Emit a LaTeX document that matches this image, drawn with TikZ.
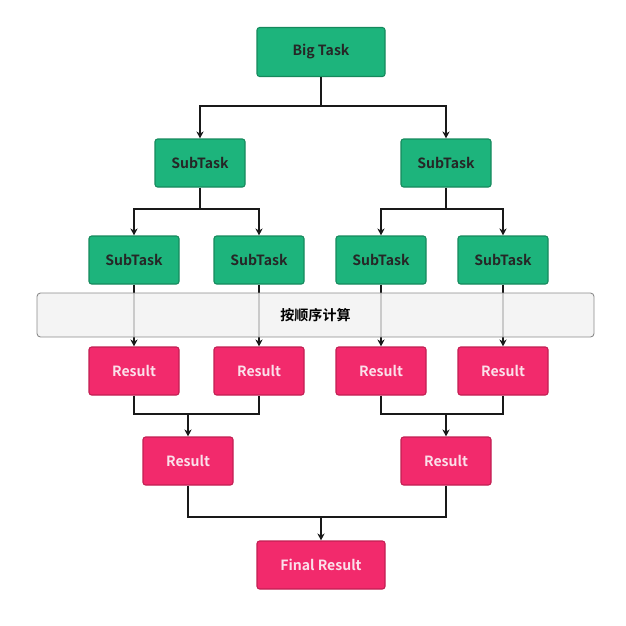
\documentclass[tikz,border=0pt]{standalone}
\usepackage{fontspec}
\setmainfont{Noto Sans CJK SC}[BoldFont={Noto Sans CJK SC Bold}]
\usetikzlibrary{arrows.meta}
\definecolor{gfill}{HTML}{1DB47C}
\definecolor{gedge}{HTML}{15895C}
\definecolor{pfill}{HTML}{F22A6C}
\definecolor{pedge}{HTML}{C21E52}
\definecolor{ptext}{HTML}{FBE0EA}
\definecolor{bandfill}{HTML}{F1F1F1}
\definecolor{bandedge}{HTML}{8A8A8A}
\begin{document}
\begin{tikzpicture}[x=0.02cm,y=-0.02cm,
  gbox/.style={draw=gedge,fill=gfill,line width=0.6pt,rounded corners=1.5pt,minimum width=90*0.02cm,minimum height=48*0.02cm,inner sep=0pt,font=\fontsize{8}{9}\selectfont\bfseries,text=black!85},
  pbox/.style={draw=pedge,fill=pfill,line width=0.6pt,rounded corners=1.5pt,minimum width=90*0.02cm,minimum height=48*0.02cm,inner sep=0pt,font=\fontsize{8}{9}\selectfont\bfseries,text=ptext},
  conn/.style={draw=black!90,line width=0.6pt},
  arr/.style={conn,-{Stealth[length=4pt,width=4pt]}}]
\useasboundingbox (0,0) rectangle (626,626);
% nodes
\node[gbox,minimum width=128*0.02cm,minimum height=49*0.02cm] (big) at (321,52) {Big Task};
\node[gbox] (s1) at (200,163) {SubTask};
\node[gbox] (s2) at (446,163) {SubTask};
\node[gbox] (t1) at (134,260) {SubTask};
\node[gbox] (t2) at (259,260) {SubTask};
\node[gbox] (t3) at (381,260) {SubTask};
\node[gbox] (t4) at (503,260) {SubTask};
\node[pbox] (r1) at (134,371) {Result};
\node[pbox] (r2) at (259,371) {Result};
\node[pbox] (r3) at (381,371) {Result};
\node[pbox] (r4) at (503,371) {Result};
\node[pbox] (q1) at (188,461) {Result};
\node[pbox] (q2) at (446,461) {Result};
\node[pbox,minimum width=128*0.02cm] (fin) at (321,565) {Final Result};
% connectors top
\coordinate (j0) at (321,106);
\draw[conn] (big.south) -- (j0);
\draw[arr] (j0) -| (s1.north);
\draw[arr] (j0) -| (s2.north);
\coordinate (j1) at (200,209);
\coordinate (j2) at (446,209);
\draw[conn] (s1.south) -- (j1);
\draw[arr] (j1) -| (t1.north);
\draw[arr] (j1) -| (t2.north);
\draw[conn] (s2.south) -- (j2);
\draw[arr] (j2) -| (t3.north);
\draw[arr] (j2) -| (t4.north);
% through band
\draw[arr] (t1.south) -- (r1.north);
\draw[arr] (t2.south) -- (r2.north);
\draw[arr] (t3.south) -- (r3.north);
\draw[arr] (t4.south) -- (r4.north);
% band
\node[draw=bandedge,fill=bandfill,fill opacity=0.82,draw opacity=1,line width=0.5pt,rounded corners=2pt,minimum width=557*0.02cm,minimum height=44*0.02cm,inner sep=0pt,text opacity=1,font=\fontsize{8}{9}\selectfont\bfseries,text=black] (band) at (315.5,315) {按顺序计算};
% bottom
\coordinate (k1) at (188,414);
\coordinate (k2) at (446,414);
\draw[conn] (r1.south) |- (k1);
\draw[conn] (r2.south) |- (k1);
\draw[arr] (k1) -- (q1.north);
\draw[conn] (r3.south) |- (k2);
\draw[conn] (r4.south) |- (k2);
\draw[arr] (k2) -- (q2.north);
\coordinate (k3) at (321,517);
\draw[conn] (q1.south) |- (k3);
\draw[conn] (q2.south) |- (k3);
\draw[arr] (k3) -- (fin.north);
\end{tikzpicture}
\end{document}
